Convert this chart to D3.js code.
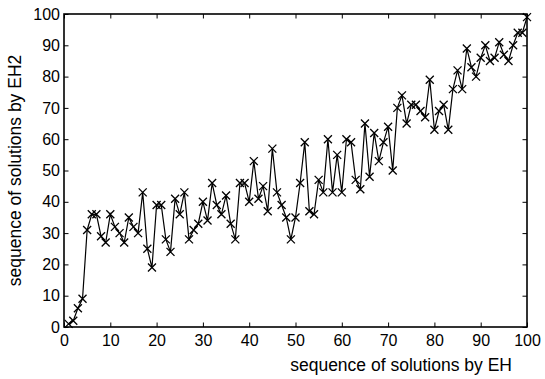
<!DOCTYPE html>
<html>
<head>
<meta charset="utf-8">
<script src="https://cdn.jsdelivr.net/npm/d3@7"></script>
<style>
  body { margin: 0; background: #fff; }
  text { font-family: "Liberation Sans", Arial, Helvetica, sans-serif; fill: #000; }
</style>
</head>
<body>
<svg id="chart" width="545" height="379"></svg>
<script>
// tick values on both axes
var xTicks = [0, 10, 20, 30, 40, 50, 60, 70, 80, 90, 100];
var yTicks = [0, 10, 20, 30, 40, 50, 60, 70, 80, 90, 100];

// position of each EH solution in the EH2 sequence (EH solution 1..100)
var eh2Seq = [
  1, 2, 6, 9, 31, 36, 36, 29, 27, 36,
  32, 30, 27, 35, 32, 30, 43, 25, 19, 39,
  39, 28, 24, 41, 36, 43, 28, 31, 33, 40,
  34, 46, 39, 36, 42, 33, 28, 46, 46, 40,
  53, 41, 45, 37, 57, 43, 39, 35, 28, 35,
  46, 59, 37, 36, 47, 43, 60, 43, 55, 43,
  60, 59, 47, 44, 65, 48, 62, 53, 59, 64,
  50, 70, 74, 65, 71, 71, 69, 67, 79, 63,
  69, 71, 63, 76, 82, 76, 89, 83, 80, 86,
  90, 85, 86, 91, 87, 85, 90, 94, 94, 99
];

var xLabel = "sequence of solutions by EH";
var yLabel = "sequence of solutions by EH2";

var svg = d3.select("#chart");
var pLeft = 64, pRight = 527, pTop = 14, pBottom = 327;

var x = d3.scaleLinear().domain([0, 100]).range([pLeft, pRight]);
var y = d3.scaleLinear().domain([0, 100]).range([pBottom, pTop]);

var points = eh2Seq.map(function (v, i) { return [i + 1, v]; });

// axes (ticks point inwards, box on all four sides)
var tickLen = 4.5;
svg.append("g")
  .attr("transform", "translate(0," + pBottom + ")")
  .call(d3.axisBottom(x).tickValues(xTicks).tickSizeInner(-tickLen).tickSizeOuter(0).tickPadding(8));
svg.append("g")
  .attr("transform", "translate(0," + pTop + ")")
  .call(d3.axisTop(x).tickValues(xTicks).tickSizeInner(-tickLen).tickSizeOuter(0).tickFormat(""));
svg.append("g")
  .attr("transform", "translate(" + pLeft + ",0)")
  .call(d3.axisLeft(y).tickValues(yTicks).tickSizeInner(-tickLen).tickSizeOuter(0).tickPadding(4));
svg.append("g")
  .attr("transform", "translate(" + pRight + ",0)")
  .call(d3.axisRight(y).tickValues(yTicks).tickSizeInner(-tickLen).tickSizeOuter(0).tickFormat(""));

svg.selectAll(".domain").remove();
svg.selectAll(".tick line").attr("stroke", "#000").attr("stroke-width", 1);
svg.selectAll(".tick text").attr("font-size", 16).attr("font-family", null);

// box
svg.append("rect")
  .attr("x", pLeft).attr("y", pTop)
  .attr("width", pRight - pLeft).attr("height", pBottom - pTop)
  .attr("fill", "none").attr("stroke", "#000").attr("stroke-width", 1.6);

// data line
var line = d3.line()
  .x(function (d) { return x(d[0]); })
  .y(function (d) { return y(d[1]); });

svg.append("path")
  .attr("d", line(points))
  .attr("fill", "none")
  .attr("stroke", "#000")
  .attr("stroke-width", 1.2);

// x markers
var m = 4;
svg.selectAll("path.mark")
  .data(points)
  .enter()
  .append("path")
  .attr("class", "mark")
  .attr("transform", function (d) { return "translate(" + x(d[0]) + "," + y(d[1]) + ")"; })
  .attr("d", "M" + -m + "," + -m + "L" + m + "," + m + "M" + -m + "," + m + "L" + m + "," + -m)
  .attr("stroke", "#000")
  .attr("stroke-width", 1.3)
  .attr("fill", "none");

// axis labels
svg.append("text")
  .attr("x", 512).attr("y", 371)
  .attr("text-anchor", "end")
  .attr("font-size", 17.5)
  .text(xLabel);

svg.append("text")
  .attr("transform", "translate(21," + (pTop + pBottom) / 2 + ") rotate(-90)")
  .attr("text-anchor", "middle")
  .attr("font-size", 17.5)
  .text(yLabel);
</script>
</body>
</html>
